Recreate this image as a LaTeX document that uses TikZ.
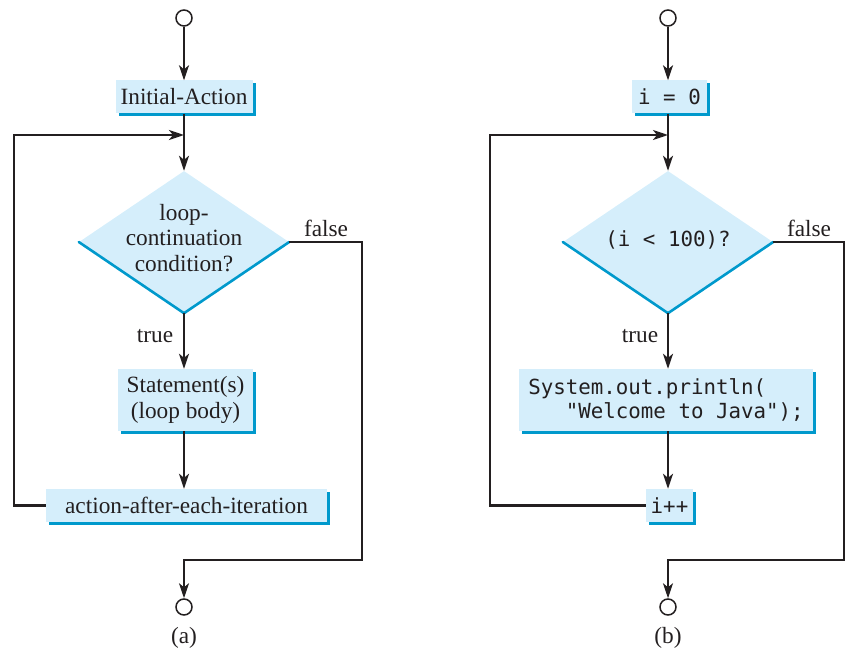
\documentclass[tikz,border=0pt]{standalone}
\usepackage{fontspec}
\setmainfont{Liberation Serif}
\newfontfamily\codefont{DejaVu Sans Mono}
\usetikzlibrary{arrows.meta,shapes.geometric,shadows}
\definecolor{boxfill}{HTML}{D5EEFB}
\definecolor{boxedge}{HTML}{0099CC}
\definecolor{ink}{HTML}{231F20}
\newcommand\mainsize{\fontsize{23.3}{25.5}\selectfont}
\newcommand\codesize{\fontsize{20.8}{24.5}\selectfont\codefont}
\tikzset{
  stepbox/.style={fill=boxfill, inner sep=0pt, text=ink, font=\mainsize,
    drop shadow={shadow xshift=3pt, shadow yshift=-3pt, fill=boxedge, opacity=1}},
  diam/.style={diamond, fill=boxfill, inner sep=0pt, minimum width=210pt, minimum height=142pt},
  diamedge/.style={draw=boxedge, line width=2.6pt, line cap=round},
  term/.style={circle, draw=ink, fill=white, line width=1.5pt, minimum size=16pt, inner sep=0pt},
  conn/.style={draw=ink, line width=2.3pt, -{Stealth[length=15pt,width=10pt,inset=4pt]}},
  fconn/.style={draw=ink, line width=1.8pt, -{Stealth[length=15pt,width=10pt,inset=4pt]}},
  lbl/.style={text=ink, font=\mainsize, inner sep=0pt},
}
\begin{document}
\begin{tikzpicture}[x=1pt,y=-1pt]
\useasboundingbox (0,0) rectangle (846,650);
% ---------- (a) ----------
\node[term] (s1) at (184,18) {};
\node[stepbox, minimum width=137pt, minimum height=33pt] (ia) at (184,97) {Initial-Action};
\node[diam] (d1) at (184,242) {};
\draw[diamedge] (d1.west) -- (d1.south) -- (d1.east);
\node[lbl, align=center] (d1t) at (184,238) {loop-\\continuation\\condition?};
\node[stepbox, minimum width=135pt, minimum height=62pt, align=center] (st1) at (185.5,400) {Statement(s)\\(loop body)};
\node[stepbox, minimum width=281pt, minimum height=33pt] (act) at (186.5,505.5) {action-after-each-iteration};
\node[term] (e1) at (184,607) {};
\coordinate (j1) at (184,135);
\coordinate (l1) at (14,135);
\coordinate (r1) at (362,560);
\node[lbl] (f1) at (326,228) {false};
\node[lbl] (t1) at (155,336) {true};
\node[lbl] (ca) at (184,638) {(a)};
\draw[conn] (s1) -- (s1 |- ia.north);
\draw[conn] (ia) -- (d1.north);
\draw[conn] (d1.south) -- (d1.south |- st1.north);
\draw[conn] (d1.south |- st1.south) -- (d1.south |- act.north);
\draw[conn] (act.west) -| (l1) -- (j1);
\draw[fconn] (d1.east) -| (r1) -| (e1.north);
% ---------- (b) ----------
\node[term] (s2) at (668,18) {};
\node[stepbox, minimum width=75pt, minimum height=33pt, font=\codesize] (i0) at (669.5,97) {i = 0};
\node[diam] (d2) at (668,242) {};
\draw[diamedge] (d2.west) -- (d2.south) -- (d2.east);
\node[lbl, font=\codesize] (d2t) at (668,240) {(i < 100)?};
\node[stepbox, minimum width=294pt, minimum height=62pt, align=left, font=\codesize] (st2) at (666,400) {System.out.println(\\\phantom{000}"Welcome to Java");};
\node[stepbox, minimum width=47pt, minimum height=33pt, font=\codesize] (ipp) at (669.5,505.5) {i++};
\node[term] (e2) at (668,607) {};
\coordinate (j2) at (668,135);
\coordinate (l2) at (490,135);
\coordinate (r2) at (844,560);
\node[lbl] (f2) at (809,228) {false};
\node[lbl] (t2) at (640,336) {true};
\node[lbl] (cb) at (668,638) {(b)};
\draw[conn] (s2) -- (s2 |- i0.north);
\draw[conn] (s2 |- i0.south) -- (d2.north);
\draw[conn] (d2.south) -- (d2.south |- st2.north);
\draw[conn] (d2.south |- st2.south) -- (d2.south |- ipp.north);
\draw[conn] (ipp.west) -| (l2) -- (j2);
\draw[fconn] (d2.east) -| (r2) -| (e2.north);
\end{tikzpicture}
\end{document}
